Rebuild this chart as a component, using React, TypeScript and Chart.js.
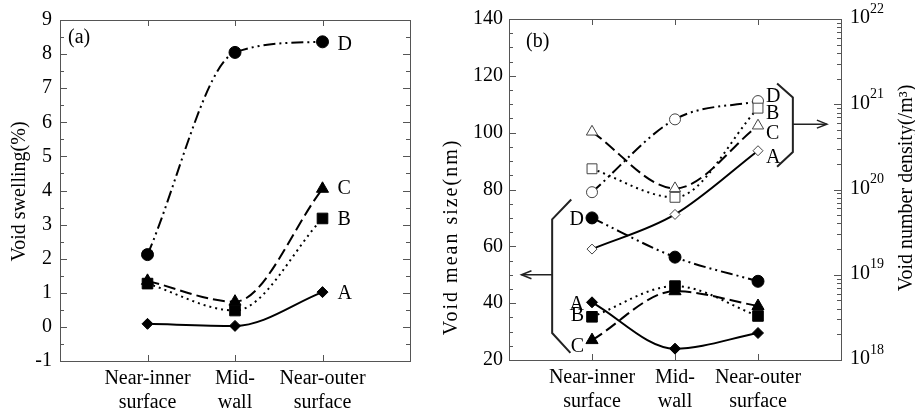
import React, { useEffect, useRef } from 'react';
import { Chart, registerables } from 'chart.js';

Chart.register(...registerables);

// ---------- data ----------
const categories: string[][] = [['Near-inner', 'surface'], ['Mid-', 'wall'], ['Near-outer', 'surface']];
const seriesNames = ['A', 'B', 'C', 'D'];

// panel (a): void swelling (%)
const swellingA = [0.09, 0.03, 1.02];
const swellingB = [1.27, 0.48, 3.18];
const swellingC = [1.35, 0.74, 4.05];
const swellingD = [2.12, 8.05, 8.36];

// panel (b): void mean size (nm), filled markers, left axis
const sizeA = [40.3, 24.0, 29.5];
const sizeB = [35.2, 46.0, 35.5];
const sizeC = [27.0, 44.2, 39.0];
const sizeD = [70.0, 56.2, 47.7];

// panel (b): void number density (/m^3), open markers, right axis
const densityA = [2.0e19, 5.1e19, 2.85e20];
const densityB = [1.75e20, 8.1e19, 9.0e20];
const densityC = [4.75e20, 1.03e20, 5.6e20];
const densityD = [9.3e19, 6.65e20, 1.09e21];

// axis ticks
const swellingTicks = [-1, 0, 1, 2, 3, 4, 5, 6, 7, 8, 9];
const sizeTicks = [20, 40, 60, 80, 100, 120, 140];
const densityExponents = [18, 19, 20, 21, 22];

// ---------- styles ----------
const FAMILY = 'Liberation Serif';
const FONT = `"${FAMILY}", serif`;
const markerStyles = ['rectRot', 'rect', 'triangle', 'circle'];
const markerRadii = [5.5, 7.5, 7, 6];
const dashes: number[][] = [[], [2, 4], [12, 5], [12, 4, 2, 4, 2, 4]];

Chart.defaults.font.family = FONT;

const paddedLabels = ['', ...categories, ''];
const pad = (arr: number[]) => [null, ...arr, null];

function makeDataset(i: number, values: number[], open: boolean, yAxisID: string) {
  return {
    label: seriesNames[i] + (open ? ' density' : ''),
    data: pad(values),
    yAxisID,
    borderColor: '#000',
    borderWidth: 2,
    borderDash: dashes[i],
    cubicInterpolationMode: 'monotone',
    spanGaps: true,
    fill: false,
    pointStyle: markerStyles[i],
    pointRadius: open ? markerRadii[i] - 0.5 : markerRadii[i],
    pointBackgroundColor: open ? '#fff' : '#000',
    pointBorderColor: open ? '#444' : '#000',
    pointBorderWidth: 1,
  };
}

function line(ctx: CanvasRenderingContext2D, x1: number, y1: number, x2: number, y2: number) {
  ctx.beginPath();
  ctx.moveTo(x1, y1);
  ctx.lineTo(x2, y2);
  ctx.stroke();
}

function drawBox(ctx: CanvasRenderingContext2D, a: any) {
  ctx.strokeStyle = '#555';
  ctx.lineWidth = 1;
  ctx.strokeRect(Math.round(a.left) + 0.5, Math.round(a.top) + 0.5, Math.round(a.right - a.left), Math.round(a.bottom - a.top));
}

function drawCategoryTicks(ctx: CanvasRenderingContext2D, chart: any) {
  const a = chart.chartArea;
  const x = chart.scales.x;
  for (let i = 1; i <= categories.length; i++) {
    const px = Math.round(x.getPixelForValue(i)) + 0.5;
    line(ctx, px, a.bottom, px, a.bottom - 6);
    line(ctx, px, a.top, px, a.top + 6);
  }
}

function rotatedText(ctx: CanvasRenderingContext2D, text: string, cx: number, cy: number, spacing = '0px') {
  ctx.save();
  ctx.translate(cx, cy);
  ctx.rotate(-Math.PI / 2);
  ctx.textAlign = 'center';
  ctx.textBaseline = 'middle';
  (ctx as any).letterSpacing = spacing;
  ctx.fillText(text, 0, 0);
  ctx.restore();
}

const panelAPlugin = {
  id: 'panelA',
  afterDraw(chart: any) {
    const { ctx, chartArea: a, scales } = chart;
    const y = scales.y;
    const x = scales.x;
    ctx.save();
    drawBox(ctx, a);
    ctx.strokeStyle = '#555';
    ctx.lineWidth = 1;
    for (let v = swellingTicks[0]; v <= swellingTicks[swellingTicks.length - 1]; v += 0.5) {
      const py = Math.round(y.getPixelForValue(v)) + 0.5;
      const len = Number.isInteger(v) ? 7 : 4;
      line(ctx, a.left, py, a.left + len, py);
      line(ctx, a.right, py, a.right - len, py);
    }
    drawCategoryTicks(ctx, chart);

    ctx.fillStyle = '#000';
    ctx.font = `20px ${FONT}`;
    ctx.textAlign = 'left';
    ctx.textBaseline = 'middle';
    ctx.fillText('(a)', a.left + 8, a.top + 18);

    const lasts = [swellingA, swellingB, swellingC, swellingD].map((s) => s[s.length - 1]);
    const dy = [2, 1, 0, 3];
    const lx = x.getPixelForValue(3) + 15;
    lasts.forEach((v, i) => ctx.fillText(seriesNames[i], lx, y.getPixelForValue(v) + dy[i]));

    rotatedText(ctx, 'Void swelling(%)', 20, (a.top + a.bottom) / 2 + 1);
    ctx.restore();
  },
};

const panelBPlugin = {
  id: 'panelB',
  afterDraw(chart: any) {
    const { ctx, chartArea: a, scales } = chart;
    const x = scales.x;
    const y = scales.y;
    const y2 = scales.y2;
    ctx.save();
    drawBox(ctx, a);
    ctx.strokeStyle = '#555';
    ctx.lineWidth = 1;
    for (let v = sizeTicks[0]; v <= sizeTicks[sizeTicks.length - 1]; v += 5) {
      const py = Math.round(y.getPixelForValue(v)) + 0.5;
      const len = v % 20 === 0 ? 7 : 4;
      line(ctx, a.left, py, a.left + len, py);
    }
    for (let e = densityExponents[0]; e <= densityExponents[densityExponents.length - 1]; e++) {
      const py = Math.round(y2.getPixelForValue(Math.pow(10, e))) + 0.5;
      line(ctx, a.right, py, a.right - 7, py);
      if (e < densityExponents[densityExponents.length - 1]) {
        for (let m = 2; m <= 9; m++) {
          const pm = Math.round(y2.getPixelForValue(m * Math.pow(10, e))) + 0.5;
          line(ctx, a.right, pm, a.right - 4, pm);
        }
      }
    }
    drawCategoryTicks(ctx, chart);

    // right axis labels 10^n
    ctx.fillStyle = '#000';
    ctx.textAlign = 'left';
    ctx.textBaseline = 'middle';
    densityExponents.forEach((e) => {
      const py = y2.getPixelForValue(Math.pow(10, e));
      ctx.font = `20px ${FONT}`;
      ctx.fillText('10', a.right + 9, py - 1);
      const w = ctx.measureText('10').width;
      ctx.font = `14px ${FONT}`;
      ctx.fillText(String(e), a.right + 9 + w, py - 10);
    });

    ctx.font = `20px ${FONT}`;
    ctx.fillText('(b)', a.left + 17, a.top + 23);

    // labels for open (density) series at right
    const openLasts = [densityA, densityB, densityC, densityD].map((s) => s[s.length - 1]);
    const openDy = [7, 6, 8, -4];
    const ox = x.getPixelForValue(3) + 8;
    openLasts.forEach((v, i) => ctx.fillText(seriesNames[i], ox, y2.getPixelForValue(v) + openDy[i]));

    // labels for filled (size) series at left
    ctx.textAlign = 'right';
    const firsts = [sizeA, sizeB, sizeC, sizeD].map((s) => s[0]);
    const fillDy = [2, -1, 7, 2];
    const fx = x.getPixelForValue(1) - 8;
    firsts.forEach((v, i) => ctx.fillText(seriesNames[i], fx, y.getPixelForValue(v) + fillDy[i]));

    // brackets and arrows
    ctx.strokeStyle = '#222';
    ctx.lineWidth = 2;
    const X = (v: number) => x.getPixelForValue(v);
    const Y = (v: number) => y.getPixelForValue(v);
    // left bracket -> left axis
    ctx.beginPath();
    ctx.moveTo(X(0.75), Y(76.5));
    ctx.lineTo(X(0.52), Y(69.5));
    ctx.lineTo(X(0.52), Y(29.5));
    ctx.lineTo(X(0.74), Y(22.5));
    ctx.stroke();
    ctx.lineWidth = 1.5;
    line(ctx, X(0.52), Y(50), X(0.15), Y(50));
    ctx.beginPath();
    ctx.moveTo(X(0.15) + 10, Y(50) - 4);
    ctx.lineTo(X(0.15), Y(50));
    ctx.lineTo(X(0.15) + 10, Y(50) + 4);
    ctx.stroke();
    // right bracket -> right axis
    ctx.lineWidth = 2;
    ctx.beginPath();
    ctx.moveTo(X(3.23), Y(117.3));
    ctx.lineTo(X(3.42), Y(112.4));
    ctx.lineTo(X(3.42), Y(93.2));
    ctx.lineTo(X(3.23), Y(88));
    ctx.stroke();
    ctx.lineWidth = 1.5;
    line(ctx, X(3.42), Y(103), X(3.83), Y(103));
    ctx.beginPath();
    ctx.moveTo(X(3.83) - 10, Y(103) - 4);
    ctx.lineTo(X(3.83), Y(103));
    ctx.lineTo(X(3.83) - 10, Y(103) + 4);
    ctx.stroke();

    // axis titles
    ctx.fillStyle = '#000';
    ctx.font = `20px ${FONT}`;
    rotatedText(ctx, 'Void mean size(nm)', 12, 237, '2px');
    rotatedText(ctx, 'Void number density(/m\u00B3)', 467, 188);
    ctx.restore();
  },
};

const tickFont = { family: FONT, size: 20 };

function baseX(height: number) {
  return {
    type: 'category' as const,
    labels: paddedLabels,
    grid: { display: false, drawTicks: false },
    border: { display: false },
    ticks: { font: tickFont, color: '#000', padding: 6, maxRotation: 0, autoSkip: false },
    afterFit: (s: any) => {
      s.height = height;
    },
  };
}

export default function App() {
  const refA = useRef<HTMLCanvasElement>(null);
  const refB = useRef<HTMLCanvasElement>(null);

  useEffect(() => {
    let chartA: Chart | null = null;
    let chartB: Chart | null = null;
    let cancelled = false;

    const build = () => {
      if (cancelled || !refA.current || !refB.current) return;
      chartA = new Chart(refA.current as HTMLCanvasElement, {
        type: 'line',
        data: {
          labels: paddedLabels as any,
          datasets: [
            makeDataset(0, swellingA, false, 'y'),
            makeDataset(1, swellingB, false, 'y'),
            makeDataset(2, swellingC, false, 'y'),
            makeDataset(3, swellingD, false, 'y'),
          ] as any,
        },
        options: {
          responsive: false,
          animation: false,
          events: [],
          layout: { padding: { left: 0, top: 20, right: 30, bottom: 0 } },
          plugins: { legend: { display: false }, tooltip: { enabled: false } },
          scales: {
            x: baseX(49) as any,
            y: {
              type: 'linear',
              min: swellingTicks[0],
              max: swellingTicks[swellingTicks.length - 1],
              grid: { display: false, drawTicks: false },
              border: { display: false },
              ticks: { stepSize: 1, font: tickFont, color: '#000', padding: 8 },
              afterFit: (s: any) => {
                s.width = 60;
              },
            },
          },
        },
        plugins: [panelAPlugin],
      });

      chartB = new Chart(refB.current as HTMLCanvasElement, {
        type: 'line',
        data: {
          labels: paddedLabels as any,
          datasets: [
            makeDataset(0, sizeA, false, 'y'),
            makeDataset(1, sizeB, false, 'y'),
            makeDataset(2, sizeC, false, 'y'),
            makeDataset(3, sizeD, false, 'y'),
            makeDataset(0, densityA, true, 'y2'),
            makeDataset(1, densityB, true, 'y2'),
            makeDataset(2, densityC, true, 'y2'),
            makeDataset(3, densityD, true, 'y2'),
          ] as any,
        },
        options: {
          responsive: false,
          animation: false,
          events: [],
          layout: { padding: { left: 0, top: 19, right: 0, bottom: 0 } },
          plugins: { legend: { display: false }, tooltip: { enabled: false } },
          scales: {
            x: baseX(50) as any,
            y: {
              type: 'linear',
              position: 'left',
              min: sizeTicks[0],
              max: sizeTicks[sizeTicks.length - 1],
              grid: { display: false, drawTicks: false },
              border: { display: false },
              ticks: { stepSize: 20, font: tickFont, color: '#000', padding: 6 },
              afterFit: (s: any) => {
                s.width = 69;
              },
            },
            y2: {
              type: 'logarithmic',
              position: 'right',
              min: Math.pow(10, densityExponents[0]),
              max: Math.pow(10, densityExponents[densityExponents.length - 1]),
              grid: { display: false, drawTicks: false },
              border: { display: false },
              ticks: { display: false },
              afterFit: (s: any) => {
                s.width = 74;
              },
            },
          },
        },
        plugins: [panelBPlugin],
      });
    };

    const fontsApi = (document as any).fonts;
    if (fontsApi && fontsApi.load) {
      Promise.all([
        fontsApi.load(`20px "${FAMILY}"`),
        fontsApi.load(`14px "${FAMILY}"`),
      ])
        .catch(() => null)
        .then(() => build());
    } else {
      build();
    }

    return () => {
      cancelled = true;
      if (chartA) chartA.destroy();
      if (chartB) chartB.destroy();
    };
  }, []);

  return (
    <div style={{ position: 'absolute', left: 0, top: 0, width: 915, height: 410, background: '#fff', overflow: 'hidden' }}>
      <canvas ref={refA} width={440} height={410} style={{ position: 'absolute', left: 0, top: 0 }} />
      <canvas ref={refB} width={475} height={410} style={{ position: 'absolute', left: 440, top: 0 }} />
    </div>
  );
}
